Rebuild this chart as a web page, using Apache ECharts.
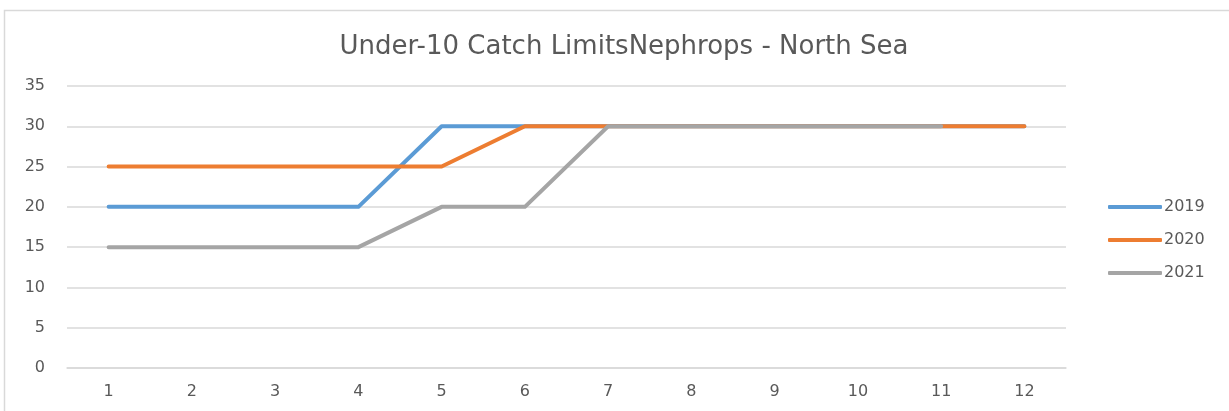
<!DOCTYPE html>
<html>
<head>
<meta charset="utf-8">
<script src="https://cdn.jsdelivr.net/npm/echarts@6/dist/echarts.min.js"></script>
<style>
html,body{margin:0;padding:0;background:#fff;}
#chart{width:1229px;height:411px;}
</style>
</head>
<body>
<div id="chart"></div>
<script>
var categories = ['1','2','3','4','5','6','7','8','9','10','11','12'];
var s2019 = [20,20,20,20,30,30,30,30,30,30,30,30];
var s2020 = [25,25,25,25,25,30,30,30,30,30,30,30];
var s2021 = [15,15,15,15,20,20,30,30,30,30,30];
var seriesNames = ['2019','2020','2021'];
var colors = ['#5b9bd5','#ed7d31','#a5a5a5'];

var chart = echarts.init(document.getElementById('chart'));
var font = '"DejaVu Sans", Verdana, sans-serif';
function mk(name, data, color, z){
  return {name:name,type:'line',data:data,symbol:'none',z:z,
    lineStyle:{color:color,width:4,cap:'round',join:'round'},itemStyle:{color:color}};
}
chart.setOption({
  animation:false,
  graphic:[{type:'rect',shape:{x:4.5,y:10.5,width:1240,height:420},
    style:{fill:'none',stroke:'#d9d9d9',lineWidth:1.5},silent:true}],
  title:{text:'Under-10 Catch LimitsNephrops - North Sea',left:619,textAlign:'center',top:29,
    textStyle:{fontFamily:font,fontSize:26,fontWeight:'normal',color:'#595959'}},
  legend:{orient:'vertical',left:1103,top:194,itemWidth:54,itemHeight:4,itemGap:17,
    icon:'roundRect',
    textStyle:{fontFamily:font,fontSize:16,color:'#595959',padding:[0,0,0,-3]},
    data:seriesNames},
  grid:{left:67,right:163,top:86,bottom:43,containLabel:false},
  xAxis:{type:'category',data:categories,boundaryGap:true,
    axisLine:{show:true,lineStyle:{color:'#d9d9d9',width:1.5}},axisTick:{show:false},
    axisLabel:{fontFamily:font,fontSize:16,color:'#595959',margin:16}},
  yAxis:{type:'value',min:0,max:35,interval:5,
    axisLine:{show:false},axisTick:{show:false},
    splitLine:{lineStyle:{color:'#d9d9d9',width:1.5}},
    axisLabel:{fontFamily:font,fontSize:16,color:'#595959',margin:22}},
  series:[mk('2019',s2019,colors[0],2),mk('2020',s2020,colors[1],3),mk('2021',s2021,colors[2],4)]
});
</script>
</body>
</html>
